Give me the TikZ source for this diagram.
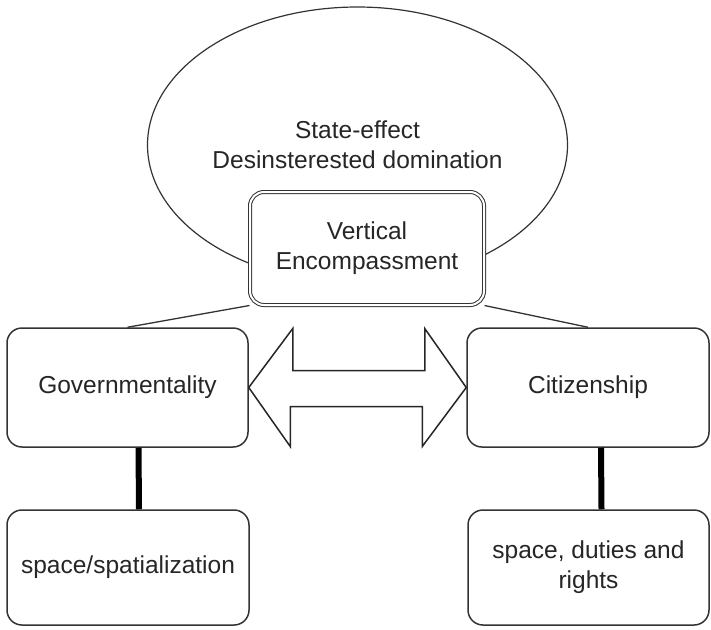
\documentclass[tikz,border=0pt]{standalone}
\usepackage{fontspec}
\setmainfont{Liberation Sans}
\usetikzlibrary{shapes.geometric}

\begin{document}
\begin{tikzpicture}[x=1pt,y=-1pt,
  every node/.style={font=\fontsize{24.5}{30}\selectfont,text=black!85,align=center},
  box/.style={draw=black!80,line width=1.5pt,rounded corners=15pt,fill=white,
    inner sep=0pt,minimum width=241pt,minimum height=119pt},
  bigarrow/.style={draw=black!85,line width=1.5pt,fill=white,line join=miter},
  link/.style={draw=black!80,line width=1.3pt}]
\useasboundingbox (0,0) rectangle (711,629);
% Draw cloud
\node[draw=black!80,line width=1.2pt,ellipse,minimum width=420pt,minimum height=276pt]
  (state) at (357.5,145) {State-effect\\Desinsterested domination};
% Draw boxes
\node[box,double,double distance=2pt,line width=1pt,minimum width=234pt,
  minimum height=113pt,rounded corners=14pt] (ve) at (367,248.5) {Vertical\\Encompassment};
\node[box] (gov) at (127.5,387.5) {Governmentality};
\node[box,minimum width=242pt] (cit) at (588,387.5) {Citizenship};
\node[box,minimum width=242pt,minimum height=115pt] (space) at (128,567.5) {space/spatialization};
\node[box,minimum height=115pt] (rights) at (588.5,567.5) {space, duties and\\rights};
% Draw links
\draw[link] (gov.north) -- (ve.south west);
\draw[link] (cit.north) -- (ve.south east);
\foreach \up/\down/\dx in {gov/space/11pt,cit/rights/13pt} {
	\draw[line width=6pt,black] ([xshift=\dx]\up.south) -- ([xshift=\dx]\down.north);
}
% Draw double arrow
\draw[bigarrow] (gov.east) -- ++(44,-59) -- ++(0,42) -- ++(132,0) -- ++(0,-42)
  -- (cit.west) -- ++(-44,59) -- ++(0,-40) -- ++(-132,0) -- ++(0,40) -- cycle;
\end{tikzpicture}
\end{document}
